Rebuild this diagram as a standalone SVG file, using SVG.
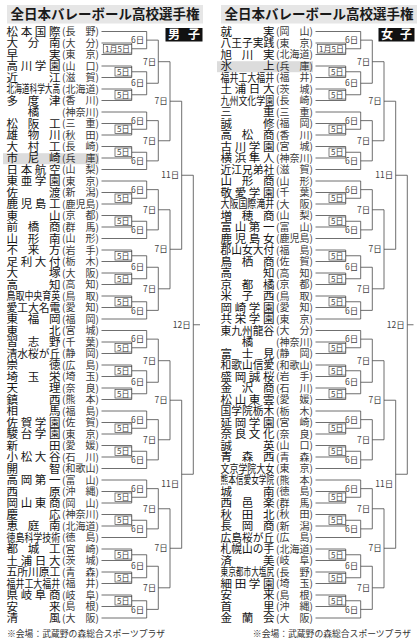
<svg xmlns="http://www.w3.org/2000/svg" width="419" height="640" viewBox="0 0 419 640">
<style>
text{font-family:"Noto Sans CJK JP","Noto Sans CJK SC",sans-serif}
.n{font-size:11.5px;fill:#151515}
.p{font-size:10px;fill:#3a3a3a}
.d{font-size:8.5px;fill:#444;text-anchor:end}
.b{font-size:8px;fill:#444;text-anchor:middle}
.ln{fill:none;stroke:#4a4a4a;stroke-width:0.8}
.bx{fill:#fff;stroke:#4a4a4a;stroke-width:0.7}
.ttl{font-size:13.5px;font-weight:bold;fill:#1a1a1a}
.hl{fill:#dcdcdc}
.ft{font-size:8.8px;fill:#333}
</style>
<rect width="419" height="640" fill="#fff"/>
<g id="header-boys">
<rect x="7" y="5" width="196" height="18.5" fill="#e6e6e6"/>
<text class="ttl" x="10.5" y="19.3">全日本バレーボール高校選手権</text>
<rect x="165.5" y="28" width="37" height="13.5" fill="#111"/>
<text x="168" y="39" font-size="12" font-weight="bold" fill="#fff" textLength="32">男子</text>
</g>
<g id="header-girls">
<rect x="221" y="5" width="196" height="18.5" fill="#e6e6e6"/>
<text class="ttl" x="224.5" y="19.3">全日本バレーボール高校選手権</text>
<rect x="378.5" y="28" width="36" height="13.5" fill="#111"/>
<text x="381" y="39" font-size="12" font-weight="bold" fill="#fff" textLength="31">女子</text>
</g>

<g id="boys" transform="translate(0,0.5)">
<g id="connectors-boys">
<path class="ln" d="M101.5 42.5H131.7V54H101.5M131.7 48.25H146.7M101.5 31H146.7V48.25M146.7 39.63H158.3M101.5 65.5H131.7V77H101.5M131.7 71.25H146.7M101.5 88.5H131.7V100H101.5M131.7 94.25H146.7M146.7 71.25V94.25M146.7 82.75H158.3M158.3 39.63V82.75M158.3 61.19H170M101.5 123H131.7V134.5H101.5M131.7 128.75H146.7M101.5 111.5H146.7V128.75M146.7 120.13H158.3M101.5 146H131.7V157.5H101.5M131.7 151.75H146.7M146.7 151.75V169H101.5M146.7 160.38H158.3M158.3 120.13V160.38M158.3 140.25H170M170 61.19V140.25M170 100.72H181.7
M101.5 192H131.7V203.5H101.5M131.7 197.75H146.7M101.5 180.5H146.7V197.75M146.7 189.13H158.3M101.5 215H131.7V226.5H101.5M131.7 220.75H146.7M146.7 220.75V238H101.5M146.7 229.38H158.3M158.3 189.13V229.38M158.3 209.25H170M101.5 249.5H131.7V261H101.5M131.7 255.25H146.7M101.5 272.5H131.7V284H101.5M131.7 278.25H146.7M146.7 255.25V278.25M146.7 266.75H158.3M101.5 295.5H131.7V307H101.5M131.7 301.25H146.7M146.7 301.25V318.5H101.5M146.7 309.88H158.3M158.3 266.75V309.88M158.3 288.31H170M170 209.25V288.31M170 248.78H181.7M181.7 100.72V248.78M181.7 174.75H193.3
M101.5 341.5H131.7V353H101.5M131.7 347.25H146.7M101.5 330H146.7V347.25M146.7 338.63H158.3M101.5 364.5H131.7V376H101.5M131.7 370.25H146.7M101.5 387.5H131.7V399H101.5M131.7 393.25H146.7M146.7 370.25V393.25M146.7 381.75H158.3M158.3 338.63V381.75M158.3 360.19H170M101.5 422H131.7V433.5H101.5M131.7 427.75H146.7M101.5 410.5H146.7V427.75M146.7 419.13H158.3M101.5 445H131.7V456.5H101.5M131.7 450.75H146.7M146.7 450.75V468H101.5M146.7 459.38H158.3M158.3 419.13V459.38M158.3 439.25H170M170 360.19V439.25M170 399.72H181.7
M101.5 491H131.7V502.5H101.5M131.7 496.75H146.7M101.5 479.5H146.7V496.75M146.7 488.13H158.3M101.5 514H131.7V525.5H101.5M131.7 519.75H146.7M146.7 519.75V537H101.5M146.7 528.38H158.3M158.3 488.13V528.38M158.3 508.25H170M101.5 548.5H131.7V560H101.5M131.7 554.25H146.7M101.5 571.5H131.7V583H101.5M131.7 577.25H146.7M146.7 554.25V577.25M146.7 565.75H158.3M101.5 594.5H131.7V606H101.5M131.7 600.25H146.7M146.7 600.25V617.5H101.5M146.7 608.88H158.3M158.3 565.75V608.88M158.3 587.31H170M170 508.25V587.31M170 547.78H181.7M181.7 399.72V547.78M181.7 473.75H193.3M193.3 174.75V473.75M193.3 324.25H200"/>
</g>
<g id="labels-boys">
<rect class="bx" x="103.3" y="43.95" width="28.4" height="8.6"/><text class="b" x="117.5" y="51.15">1月5日</text>
<rect class="bx" x="115" y="66.95" width="16.7" height="8.6"/><text class="b" x="123.35" y="74.15">5日</text>
<rect class="bx" x="115" y="89.95" width="16.7" height="8.6"/><text class="b" x="123.35" y="97.15">5日</text>
<rect class="bx" x="115" y="124.45" width="16.7" height="8.6"/><text class="b" x="123.35" y="131.65">5日</text>
<rect class="bx" x="115" y="147.45" width="16.7" height="8.6"/><text class="b" x="123.35" y="154.65">5日</text>
<rect class="bx" x="115" y="193.45" width="16.7" height="8.6"/><text class="b" x="123.35" y="200.65">5日</text>
<rect class="bx" x="115" y="216.45" width="16.7" height="8.6"/><text class="b" x="123.35" y="223.65">5日</text>
<rect class="bx" x="115" y="250.95" width="16.7" height="8.6"/><text class="b" x="123.35" y="258.15">5日</text>
<rect class="bx" x="115" y="273.95" width="16.7" height="8.6"/><text class="b" x="123.35" y="281.15">5日</text>
<rect class="bx" x="115" y="296.95" width="16.7" height="8.6"/><text class="b" x="123.35" y="304.15">5日</text>
<rect class="bx" x="115" y="342.95" width="16.7" height="8.6"/><text class="b" x="123.35" y="350.15">5日</text>
<rect class="bx" x="115" y="365.95" width="16.7" height="8.6"/><text class="b" x="123.35" y="373.15">5日</text>
<rect class="bx" x="115" y="388.95" width="16.7" height="8.6"/><text class="b" x="123.35" y="396.15">5日</text>
<rect class="bx" x="115" y="423.45" width="16.7" height="8.6"/><text class="b" x="123.35" y="430.65">5日</text>
<rect class="bx" x="115" y="446.45" width="16.7" height="8.6"/><text class="b" x="123.35" y="453.65">5日</text>
<rect class="bx" x="115" y="492.45" width="16.7" height="8.6"/><text class="b" x="123.35" y="499.65">5日</text>
<rect class="bx" x="115" y="515.45" width="16.7" height="8.6"/><text class="b" x="123.35" y="522.65">5日</text>
<rect class="bx" x="115" y="549.95" width="16.7" height="8.6"/><text class="b" x="123.35" y="557.15">5日</text>
<rect class="bx" x="115" y="572.95" width="16.7" height="8.6"/><text class="b" x="123.35" y="580.15">5日</text>
<rect class="bx" x="115" y="595.95" width="16.7" height="8.6"/><text class="b" x="123.35" y="603.15">5日</text>
<text class="d" x="144.2" y="42.7">6日</text><text class="d" x="144.2" y="85.85">6日</text><text class="d" x="144.2" y="123.2">6日</text><text class="d" x="144.2" y="163.5">6日</text>
<text class="d" x="144.2" y="192.2">6日</text><text class="d" x="144.2" y="232.5">6日</text><text class="d" x="144.2" y="269.85">6日</text><text class="d" x="144.2" y="313">6日</text>
<text class="d" x="144.2" y="341.7">6日</text><text class="d" x="144.2" y="384.85">6日</text><text class="d" x="144.2" y="422.2">6日</text><text class="d" x="144.2" y="462.5">6日</text>
<text class="d" x="144.2" y="491.2">6日</text><text class="d" x="144.2" y="531.5">6日</text><text class="d" x="144.2" y="568.85">6日</text><text class="d" x="144.2" y="612">6日</text>
<text class="d" x="156.3" y="64.3">7日</text><text class="d" x="156.3" y="143.35">7日</text><text class="d" x="156.3" y="212.35">7日</text><text class="d" x="156.3" y="291.4">7日</text>
<text class="d" x="156.3" y="363.3">7日</text><text class="d" x="156.3" y="442.35">7日</text><text class="d" x="156.3" y="511.35">7日</text><text class="d" x="156.3" y="590.4">7日</text>
<text class="d" x="167.8" y="103.8">7日</text><text class="d" x="167.8" y="251.9">7日</text><text class="d" x="167.8" y="402.8">7日</text><text class="d" x="167.8" y="550.9">7日</text>
<text class="d" x="179.2" y="177.85">11日</text><text class="d" x="179.2" y="486.1">11日</text>
<text class="d" x="190.8" y="327.35">12日</text>
</g>
<g id="b01" transform="translate(0,31)"><text class="n" x="6.5" y="4.4" textLength="54">松本国際</text><text class="p" x="62" y="3.8">(長<tspan dx="10">野</tspan>)</text></g>
<g id="b02" transform="translate(0,42.5)"><text class="n" x="6.5" y="4.4" textLength="54">大分南</text><text class="p" x="62" y="3.8">(大<tspan dx="10">分</tspan>)</text></g>
<g id="b03" transform="translate(0,54)"><text class="n" x="6.5" y="4.4" textLength="54">早実</text><text class="p" x="62" y="3.8">(東<tspan dx="10">京</tspan>)</text></g>
<g id="b04" transform="translate(0,65.5)"><text class="n" x="6.5" y="4.4" textLength="54">高川学園</text><text class="p" x="62" y="3.8">(山<tspan dx="10">口</tspan>)</text></g>
<g id="b05" transform="translate(0,77)"><text class="n" x="6.5" y="4.4" textLength="54">近江</text><text class="p" x="62" y="3.8">(滋<tspan dx="10">賀</tspan>)</text></g>
<g id="b06" transform="translate(0,88.5)"><text class="n" transform="translate(6.5,4.4) scale(0.668,1)">北海道科学大高</text><text class="p" x="62" y="3.8">(北海道)</text></g>
<g id="b07" transform="translate(0,100)"><text class="n" x="6.5" y="4.4" textLength="54">多度津</text><text class="p" x="62" y="3.8">(香<tspan dx="10">川</tspan>)</text></g>
<g id="b08" transform="translate(0,111.5)"><text class="n" x="33.5" y="4.4" text-anchor="middle">橘</text><text class="p" x="62" y="3.8">(神奈川)</text></g>
<g id="b09" transform="translate(0,123)"><text class="n" x="6.5" y="4.4" textLength="54">松阪工</text><text class="p" x="62" y="3.8">(三<tspan dx="10">重</tspan>)</text></g>
<g id="b10" transform="translate(0,134.5)"><text class="n" x="6.5" y="4.4" textLength="54">雄物川</text><text class="p" x="62" y="3.8">(秋<tspan dx="10">田</tspan>)</text></g>
<g id="b11" transform="translate(0,146)"><text class="n" x="6.5" y="4.4" textLength="54">大村工</text><text class="p" x="62" y="3.8">(長<tspan dx="10">崎</tspan>)</text></g>
<g id="b12" transform="translate(0,157.5)"><rect class="hl" x="3" y="-4.8" width="96" height="11"/><text class="n" x="6.5" y="4.4" textLength="54">市尼崎</text><text class="p" x="62" y="3.8">(兵<tspan dx="10">庫</tspan>)</text></g>
<g id="b13" transform="translate(0,169)"><text class="n" x="6.5" y="4.4" textLength="54">日本航空</text><text class="p" x="62" y="3.8">(山<tspan dx="10">梨</tspan>)</text></g>
<g id="b14" transform="translate(0,180.5)"><text class="n" x="6.5" y="4.4" textLength="54">東亜学園</text><text class="p" x="62" y="3.8">(東<tspan dx="10">京</tspan>)</text></g>
<g id="b15" transform="translate(0,192)"><text class="n" x="6.5" y="4.4" textLength="54">佐渡</text><text class="p" x="62" y="3.8">(新<tspan dx="10">潟</tspan>)</text></g>
<g id="b16" transform="translate(0,203.5)"><text class="n" x="6.5" y="4.4" textLength="54">鹿児島工</text><text class="p" x="62" y="3.8">(鹿児島)</text></g>
<g id="b17" transform="translate(0,215)"><text class="n" x="6.5" y="4.4" textLength="54">東山</text><text class="p" x="62" y="3.8">(京<tspan dx="10">都</tspan>)</text></g>
<g id="b18" transform="translate(0,226.5)"><text class="n" x="6.5" y="4.4" textLength="54">前橋商</text><text class="p" x="62" y="3.8">(群<tspan dx="10">馬</tspan>)</text></g>
<g id="b19" transform="translate(0,238)"><text class="n" x="6.5" y="4.4" textLength="54">山形南</text><text class="p" x="62" y="3.8">(山<tspan dx="10">形</tspan>)</text></g>
<g id="b20" transform="translate(0,249.5)"><text class="n" x="6.5" y="4.4" textLength="54">不来方</text><text class="p" x="62" y="3.8">(岩<tspan dx="10">手</tspan>)</text></g>
<g id="b21" transform="translate(0,261)"><text class="n" x="6.5" y="4.4" textLength="54">足利大付</text><text class="p" x="62" y="3.8">(栃<tspan dx="10">木</tspan>)</text></g>
<g id="b22" transform="translate(0,272.5)"><text class="n" x="6.5" y="4.4" textLength="54">大塚</text><text class="p" x="62" y="3.8">(大<tspan dx="10">阪</tspan>)</text></g>
<g id="b23" transform="translate(0,284)"><text class="n" x="6.5" y="4.4" textLength="54">高知</text><text class="p" x="62" y="3.8">(高<tspan dx="10">知</tspan>)</text></g>
<g id="b24" transform="translate(0,295.5)"><text class="n" transform="translate(6.5,4.4) scale(0.78,1)">鳥取中央育英</text><text class="p" x="62" y="3.8">(鳥<tspan dx="10">取</tspan>)</text></g>
<g id="b25" transform="translate(0,307)"><text class="n" transform="translate(6.5,4.4) scale(0.935,1)">愛工大名電</text><text class="p" x="62" y="3.8">(愛<tspan dx="10">知</tspan>)</text></g>
<g id="b26" transform="translate(0,318.5)"><text class="n" x="6.5" y="4.4" textLength="54">東福岡</text><text class="p" x="62" y="3.8">(福<tspan dx="10">岡</tspan>)</text></g>
<g id="b27" transform="translate(0,330)"><text class="n" x="6.5" y="4.4" textLength="54">東北</text><text class="p" x="62" y="3.8">(宮<tspan dx="10">城</tspan>)</text></g>
<g id="b28" transform="translate(0,341.5)"><text class="n" x="6.5" y="4.4" textLength="54">習志野</text><text class="p" x="62" y="3.8">(千<tspan dx="10">葉</tspan>)</text></g>
<g id="b29" transform="translate(0,353)"><text class="n" transform="translate(6.5,4.4) scale(0.935,1)">清水桜が丘</text><text class="p" x="62" y="3.8">(静<tspan dx="10">岡</tspan>)</text></g>
<g id="b30" transform="translate(0,364.5)"><text class="n" x="6.5" y="4.4" textLength="54">崇徳</text><text class="p" x="62" y="3.8">(広<tspan dx="10">島</tspan>)</text></g>
<g id="b31" transform="translate(0,376)"><text class="n" x="6.5" y="4.4" textLength="54">埼玉栄</text><text class="p" x="62" y="3.8">(埼<tspan dx="10">玉</tspan>)</text></g>
<g id="b32" transform="translate(0,387.5)"><text class="n" x="6.5" y="4.4" textLength="54">天理</text><text class="p" x="62" y="3.8">(奈<tspan dx="10">良</tspan>)</text></g>
<g id="b33" transform="translate(0,399)"><text class="n" x="6.5" y="4.4" textLength="54">鎮西</text><text class="p" x="62" y="3.8">(熊<tspan dx="10">本</tspan>)</text></g>
<g id="b34" transform="translate(0,410.5)"><text class="n" x="6.5" y="4.4" textLength="54">相馬</text><text class="p" x="62" y="3.8">(福<tspan dx="10">島</tspan>)</text></g>
<g id="b35" transform="translate(0,422)"><text class="n" x="6.5" y="4.4" textLength="54">佐賀学園</text><text class="p" x="62" y="3.8">(佐<tspan dx="10">賀</tspan>)</text></g>
<g id="b36" transform="translate(0,433.5)"><text class="n" x="6.5" y="4.4" textLength="54">駿台学園</text><text class="p" x="62" y="3.8">(東<tspan dx="10">京</tspan>)</text></g>
<g id="b37" transform="translate(0,445)"><text class="n" x="6.5" y="4.4" textLength="54">新田</text><text class="p" x="62" y="3.8">(愛<tspan dx="10">媛</tspan>)</text></g>
<g id="b38" transform="translate(0,456.5)"><text class="n" x="6.5" y="4.4" textLength="54">小松大谷</text><text class="p" x="62" y="3.8">(石<tspan dx="10">川</tspan>)</text></g>
<g id="b39" transform="translate(0,468)"><text class="n" x="6.5" y="4.4" textLength="54">開智</text><text class="p" x="62" y="3.8">(和歌山)</text></g>
<g id="b40" transform="translate(0,479.5)"><text class="n" x="6.5" y="4.4" textLength="54">高岡第一</text><text class="p" x="62" y="3.8">(富<tspan dx="10">山</tspan>)</text></g>
<g id="b41" transform="translate(0,491)"><text class="n" x="6.5" y="4.4" textLength="54">西原</text><text class="p" x="62" y="3.8">(沖<tspan dx="10">縄</tspan>)</text></g>
<g id="b42" transform="translate(0,502.5)"><text class="n" x="6.5" y="4.4" textLength="54">岡山東商</text><text class="p" x="62" y="3.8">(岡<tspan dx="10">山</tspan>)</text></g>
<g id="b43" transform="translate(0,514)"><text class="n" x="6.5" y="4.4" textLength="54">慶応</text><text class="p" x="62" y="3.8">(神奈川)</text></g>
<g id="b44" transform="translate(0,525.5)"><text class="n" x="6.5" y="4.4" textLength="54">恵庭南</text><text class="p" x="62" y="3.8">(北海道)</text></g>
<g id="b45" transform="translate(0,537)"><text class="n" transform="translate(6.5,4.4) scale(0.78,1)">徳島科学技術</text><text class="p" x="62" y="3.8">(徳<tspan dx="10">島</tspan>)</text></g>
<g id="b46" transform="translate(0,548.5)"><text class="n" x="6.5" y="4.4" textLength="54">都城工</text><text class="p" x="62" y="3.8">(宮<tspan dx="10">崎</tspan>)</text></g>
<g id="b47" transform="translate(0,560)"><text class="n" x="6.5" y="4.4" textLength="54">土浦日大</text><text class="p" x="62" y="3.8">(茨<tspan dx="10">城</tspan>)</text></g>
<g id="b48" transform="translate(0,571.5)"><text class="n" transform="translate(6.5,4.4) scale(0.935,1)">五所川原工</text><text class="p" x="62" y="3.8">(青<tspan dx="10">森</tspan>)</text></g>
<g id="b49" transform="translate(0,583)"><text class="n" transform="translate(6.5,4.4) scale(0.78,1)">福井工大福井</text><text class="p" x="62" y="3.8">(福<tspan dx="10">井</tspan>)</text></g>
<g id="b50" transform="translate(0,594.5)"><text class="n" x="6.5" y="4.4" textLength="54">県岐阜商</text><text class="p" x="62" y="3.8">(岐<tspan dx="10">阜</tspan>)</text></g>
<g id="b51" transform="translate(0,606)"><text class="n" x="6.5" y="4.4" textLength="54">安来</text><text class="p" x="62" y="3.8">(島<tspan dx="10">根</tspan>)</text></g>
<g id="b52" transform="translate(0,617.5)"><text class="n" x="6.5" y="4.4" textLength="54">清風</text><text class="p" x="62" y="3.8">(大<tspan dx="10">阪</tspan>)</text></g>
</g>

<g id="girls" transform="translate(214,0.5)">
<g id="connectors-girls">
<path class="ln" d="M101.5 42.5H131.7V54H101.5M131.7 48.25H146.7M101.5 31H146.7V48.25M146.7 39.63H158.3M101.5 65.5H131.7V77H101.5M131.7 71.25H146.7M101.5 88.5H131.7V100H101.5M131.7 94.25H146.7M146.7 71.25V94.25M146.7 82.75H158.3M158.3 39.63V82.75M158.3 61.19H170M101.5 123H131.7V134.5H101.5M131.7 128.75H146.7M101.5 111.5H146.7V128.75M146.7 120.13H158.3M101.5 146H131.7V157.5H101.5M131.7 151.75H146.7M146.7 151.75V169H101.5M146.7 160.38H158.3M158.3 120.13V160.38M158.3 140.25H170M170 61.19V140.25M170 100.72H181.7
M101.5 192H131.7V203.5H101.5M131.7 197.75H146.7M101.5 180.5H146.7V197.75M146.7 189.13H158.3M101.5 215H131.7V226.5H101.5M131.7 220.75H146.7M146.7 220.75V238H101.5M146.7 229.38H158.3M158.3 189.13V229.38M158.3 209.25H170M101.5 249.5H131.7V261H101.5M131.7 255.25H146.7M101.5 272.5H131.7V284H101.5M131.7 278.25H146.7M146.7 255.25V278.25M146.7 266.75H158.3M101.5 295.5H131.7V307H101.5M131.7 301.25H146.7M146.7 301.25V318.5H101.5M146.7 309.88H158.3M158.3 266.75V309.88M158.3 288.31H170M170 209.25V288.31M170 248.78H181.7M181.7 100.72V248.78M181.7 174.75H193.3
M101.5 341.5H131.7V353H101.5M131.7 347.25H146.7M101.5 330H146.7V347.25M146.7 338.63H158.3M101.5 364.5H131.7V376H101.5M131.7 370.25H146.7M101.5 387.5H131.7V399H101.5M131.7 393.25H146.7M146.7 370.25V393.25M146.7 381.75H158.3M158.3 338.63V381.75M158.3 360.19H170M101.5 422H131.7V433.5H101.5M131.7 427.75H146.7M101.5 410.5H146.7V427.75M146.7 419.13H158.3M101.5 445H131.7V456.5H101.5M131.7 450.75H146.7M146.7 450.75V468H101.5M146.7 459.38H158.3M158.3 419.13V459.38M158.3 439.25H170M170 360.19V439.25M170 399.72H181.7
M101.5 491H131.7V502.5H101.5M131.7 496.75H146.7M101.5 479.5H146.7V496.75M146.7 488.13H158.3M101.5 514H131.7V525.5H101.5M131.7 519.75H146.7M146.7 519.75V537H101.5M146.7 528.38H158.3M158.3 488.13V528.38M158.3 508.25H170M101.5 548.5H131.7V560H101.5M131.7 554.25H146.7M101.5 571.5H131.7V583H101.5M131.7 577.25H146.7M146.7 554.25V577.25M146.7 565.75H158.3M101.5 594.5H131.7V606H101.5M131.7 600.25H146.7M146.7 600.25V617.5H101.5M146.7 608.88H158.3M158.3 565.75V608.88M158.3 587.31H170M170 508.25V587.31M170 547.78H181.7M181.7 399.72V547.78M181.7 473.75H193.3M193.3 174.75V473.75M193.3 324.25H199.5"/>
</g>
<g id="labels-girls">
<rect class="bx" x="103.3" y="43.95" width="28.4" height="8.6"/><text class="b" x="117.5" y="51.15">1月5日</text>
<rect class="bx" x="115" y="66.95" width="16.7" height="8.6"/><text class="b" x="123.35" y="74.15">5日</text>
<rect class="bx" x="115" y="89.95" width="16.7" height="8.6"/><text class="b" x="123.35" y="97.15">5日</text>
<rect class="bx" x="115" y="124.45" width="16.7" height="8.6"/><text class="b" x="123.35" y="131.65">5日</text>
<rect class="bx" x="115" y="147.45" width="16.7" height="8.6"/><text class="b" x="123.35" y="154.65">5日</text>
<rect class="bx" x="115" y="193.45" width="16.7" height="8.6"/><text class="b" x="123.35" y="200.65">5日</text>
<rect class="bx" x="115" y="216.45" width="16.7" height="8.6"/><text class="b" x="123.35" y="223.65">5日</text>
<rect class="bx" x="115" y="250.95" width="16.7" height="8.6"/><text class="b" x="123.35" y="258.15">5日</text>
<rect class="bx" x="115" y="273.95" width="16.7" height="8.6"/><text class="b" x="123.35" y="281.15">5日</text>
<rect class="bx" x="115" y="296.95" width="16.7" height="8.6"/><text class="b" x="123.35" y="304.15">5日</text>
<rect class="bx" x="115" y="342.95" width="16.7" height="8.6"/><text class="b" x="123.35" y="350.15">5日</text>
<rect class="bx" x="115" y="365.95" width="16.7" height="8.6"/><text class="b" x="123.35" y="373.15">5日</text>
<rect class="bx" x="115" y="388.95" width="16.7" height="8.6"/><text class="b" x="123.35" y="396.15">5日</text>
<rect class="bx" x="115" y="423.45" width="16.7" height="8.6"/><text class="b" x="123.35" y="430.65">5日</text>
<rect class="bx" x="115" y="446.45" width="16.7" height="8.6"/><text class="b" x="123.35" y="453.65">5日</text>
<rect class="bx" x="115" y="492.45" width="16.7" height="8.6"/><text class="b" x="123.35" y="499.65">5日</text>
<rect class="bx" x="115" y="515.45" width="16.7" height="8.6"/><text class="b" x="123.35" y="522.65">5日</text>
<rect class="bx" x="115" y="549.95" width="16.7" height="8.6"/><text class="b" x="123.35" y="557.15">5日</text>
<rect class="bx" x="115" y="572.95" width="16.7" height="8.6"/><text class="b" x="123.35" y="580.15">5日</text>
<rect class="bx" x="115" y="595.95" width="16.7" height="8.6"/><text class="b" x="123.35" y="603.15">5日</text>
<text class="d" x="144.2" y="42.7">6日</text><text class="d" x="144.2" y="85.85">6日</text><text class="d" x="144.2" y="123.2">6日</text><text class="d" x="144.2" y="163.5">6日</text>
<text class="d" x="144.2" y="192.2">6日</text><text class="d" x="144.2" y="232.5">6日</text><text class="d" x="144.2" y="269.85">6日</text><text class="d" x="144.2" y="313">6日</text>
<text class="d" x="144.2" y="341.7">6日</text><text class="d" x="144.2" y="384.85">6日</text><text class="d" x="144.2" y="422.2">6日</text><text class="d" x="144.2" y="462.5">6日</text>
<text class="d" x="144.2" y="491.2">6日</text><text class="d" x="144.2" y="531.5">6日</text><text class="d" x="144.2" y="568.85">6日</text><text class="d" x="144.2" y="612">6日</text>
<text class="d" x="156.3" y="64.3">7日</text><text class="d" x="156.3" y="143.35">7日</text><text class="d" x="156.3" y="212.35">7日</text><text class="d" x="156.3" y="291.4">7日</text>
<text class="d" x="156.3" y="363.3">7日</text><text class="d" x="156.3" y="442.35">7日</text><text class="d" x="156.3" y="511.35">7日</text><text class="d" x="156.3" y="590.4">7日</text>
<text class="d" x="167.8" y="103.8">7日</text><text class="d" x="167.8" y="251.9">7日</text><text class="d" x="167.8" y="402.8">7日</text><text class="d" x="167.8" y="550.9">7日</text>
<text class="d" x="179.2" y="177.85">11日</text><text class="d" x="179.2" y="486.1">11日</text>
<text class="d" x="190.8" y="327.35">12日</text>
</g>
<g id="g01" transform="translate(0,31)"><text class="n" x="6.5" y="4.4" textLength="54">就実</text><text class="p" x="62" y="3.8">(岡<tspan dx="10">山</tspan>)</text></g>
<g id="g02" transform="translate(0,42.5)"><text class="n" transform="translate(6.5,4.4) scale(0.935,1)">八王子実践</text><text class="p" x="62" y="3.8">(東<tspan dx="10">京</tspan>)</text></g>
<g id="g03" transform="translate(0,54)"><text class="n" x="6.5" y="4.4" textLength="54">旭川実</text><text class="p" x="62" y="3.8">(北海道)</text></g>
<g id="g04" transform="translate(0,65.5)"><rect class="hl" x="3" y="-4.8" width="96" height="11"/><text class="n" x="6.5" y="4.4" textLength="54">氷上</text><text class="p" x="62" y="3.8">(兵<tspan dx="10">庫</tspan>)</text></g>
<g id="g05" transform="translate(0,77)"><text class="n" transform="translate(6.5,4.4) scale(0.78,1)">福井工大福井</text><text class="p" x="62" y="3.8">(福<tspan dx="10">井</tspan>)</text></g>
<g id="g06" transform="translate(0,88.5)"><text class="n" x="6.5" y="4.4" textLength="54">土浦日大</text><text class="p" x="62" y="3.8">(茨<tspan dx="10">城</tspan>)</text></g>
<g id="g07" transform="translate(0,100)"><text class="n" transform="translate(6.5,4.4) scale(0.78,1)">九州文化学園</text><text class="p" x="62" y="3.8">(長<tspan dx="10">崎</tspan>)</text></g>
<g id="g08" transform="translate(0,111.5)"><text class="n" x="6.5" y="4.4" textLength="54">三重</text><text class="p" x="62" y="3.8">(三<tspan dx="10">重</tspan>)</text></g>
<g id="g09" transform="translate(0,123)"><text class="n" x="6.5" y="4.4" textLength="54">誠修</text><text class="p" x="62" y="3.8">(福<tspan dx="10">岡</tspan>)</text></g>
<g id="g10" transform="translate(0,134.5)"><text class="n" x="6.5" y="4.4" textLength="54">高松商</text><text class="p" x="62" y="3.8">(香<tspan dx="10">川</tspan>)</text></g>
<g id="g11" transform="translate(0,146)"><text class="n" x="6.5" y="4.4" textLength="54">古川学園</text><text class="p" x="62" y="3.8">(宮<tspan dx="10">城</tspan>)</text></g>
<g id="g12" transform="translate(0,157.5)"><text class="n" x="6.5" y="4.4" textLength="54">横浜隼人</text><text class="p" x="62" y="3.8">(神奈川)</text></g>
<g id="g13" transform="translate(0,169)"><text class="n" transform="translate(6.5,4.4) scale(0.935,1)">近江兄弟社</text><text class="p" x="62" y="3.8">(滋<tspan dx="10">賀</tspan>)</text></g>
<g id="g14" transform="translate(0,180.5)"><text class="n" x="6.5" y="4.4" textLength="54">山形商</text><text class="p" x="62" y="3.8">(山<tspan dx="10">形</tspan>)</text></g>
<g id="g15" transform="translate(0,192)"><text class="n" x="6.5" y="4.4" textLength="54">敬愛学園</text><text class="p" x="62" y="3.8">(千<tspan dx="10">葉</tspan>)</text></g>
<g id="g16" transform="translate(0,203.5)"><text class="n" transform="translate(6.5,4.4) scale(0.78,1)">大阪国際滝井</text><text class="p" x="62" y="3.8">(大<tspan dx="10">阪</tspan>)</text></g>
<g id="g17" transform="translate(0,215)"><text class="n" x="6.5" y="4.4" textLength="54">増穂商</text><text class="p" x="62" y="3.8">(山<tspan dx="10">梨</tspan>)</text></g>
<g id="g18" transform="translate(0,226.5)"><text class="n" x="6.5" y="4.4" textLength="54">富山第一</text><text class="p" x="62" y="3.8">(富<tspan dx="10">山</tspan>)</text></g>
<g id="g19" transform="translate(0,238)"><text class="n" x="6.5" y="4.4" textLength="54">鹿児島女</text><text class="p" x="62" y="3.8">(鹿児島)</text></g>
<g id="g20" transform="translate(0,249.5)"><text class="n" transform="translate(6.5,4.4) scale(0.935,1)">郡山女大付</text><text class="p" x="62" y="3.8">(福<tspan dx="10">島</tspan>)</text></g>
<g id="g21" transform="translate(0,261)"><text class="n" x="6.5" y="4.4" textLength="54">鳥栖商</text><text class="p" x="62" y="3.8">(佐<tspan dx="10">賀</tspan>)</text></g>
<g id="g22" transform="translate(0,272.5)"><text class="n" x="6.5" y="4.4" textLength="54">高知</text><text class="p" x="62" y="3.8">(高<tspan dx="10">知</tspan>)</text></g>
<g id="g23" transform="translate(0,284)"><text class="n" x="6.5" y="4.4" textLength="54">京都橘</text><text class="p" x="62" y="3.8">(京<tspan dx="10">都</tspan>)</text></g>
<g id="g24" transform="translate(0,295.5)"><text class="n" x="6.5" y="4.4" textLength="54">米子西</text><text class="p" x="62" y="3.8">(鳥<tspan dx="10">取</tspan>)</text></g>
<g id="g25" transform="translate(0,307)"><text class="n" x="6.5" y="4.4" textLength="54">岡崎学園</text><text class="p" x="62" y="3.8">(愛<tspan dx="10">知</tspan>)</text></g>
<g id="g26" transform="translate(0,318.5)"><text class="n" x="6.5" y="4.4" textLength="54">共栄学園</text><text class="p" x="62" y="3.8">(東<tspan dx="10">京</tspan>)</text></g>
<g id="g27" transform="translate(0,330)"><text class="n" transform="translate(6.5,4.4) scale(0.935,1)">東九州龍谷</text><text class="p" x="62" y="3.8">(大<tspan dx="10">分</tspan>)</text></g>
<g id="g28" transform="translate(0,341.5)"><text class="n" x="33.5" y="4.4" text-anchor="middle">橘</text><text class="p" x="62" y="3.8">(神奈川)</text></g>
<g id="g29" transform="translate(0,353)"><text class="n" x="6.5" y="4.4" textLength="54">富士見</text><text class="p" x="62" y="3.8">(静<tspan dx="10">岡</tspan>)</text></g>
<g id="g30" transform="translate(0,364.5)"><text class="n" transform="translate(6.5,4.4) scale(0.935,1)">和歌山信愛</text><text class="p" x="62" y="3.8">(和歌山)</text></g>
<g id="g31" transform="translate(0,376)"><text class="n" x="6.5" y="4.4" textLength="54">盛岡誠桜</text><text class="p" x="62" y="3.8">(岩<tspan dx="10">手</tspan>)</text></g>
<g id="g32" transform="translate(0,387.5)"><text class="n" x="6.5" y="4.4" textLength="54">金沢商</text><text class="p" x="62" y="3.8">(石<tspan dx="10">川</tspan>)</text></g>
<g id="g33" transform="translate(0,399)"><text class="n" x="6.5" y="4.4" textLength="54">松山東雲</text><text class="p" x="62" y="3.8">(愛<tspan dx="10">媛</tspan>)</text></g>
<g id="g34" transform="translate(0,410.5)"><text class="n" transform="translate(6.5,4.4) scale(0.935,1)">国学院栃木</text><text class="p" x="62" y="3.8">(栃<tspan dx="10">木</tspan>)</text></g>
<g id="g35" transform="translate(0,422)"><text class="n" x="6.5" y="4.4" textLength="54">延岡学園</text><text class="p" x="62" y="3.8">(宮<tspan dx="10">崎</tspan>)</text></g>
<g id="g36" transform="translate(0,433.5)"><text class="n" x="6.5" y="4.4" textLength="54">奈良文化</text><text class="p" x="62" y="3.8">(奈<tspan dx="10">良</tspan>)</text></g>
<g id="g37" transform="translate(0,445)"><text class="n" x="6.5" y="4.4" textLength="54">誠英</text><text class="p" x="62" y="3.8">(山<tspan dx="10">口</tspan>)</text></g>
<g id="g38" transform="translate(0,456.5)"><text class="n" x="6.5" y="4.4" textLength="54">青森西</text><text class="p" x="62" y="3.8">(青<tspan dx="10">森</tspan>)</text></g>
<g id="g39" transform="translate(0,468)"><text class="n" transform="translate(6.5,4.4) scale(0.78,1)">文京学院大女</text><text class="p" x="62" y="3.8">(東<tspan dx="10">京</tspan>)</text></g>
<g id="g40" transform="translate(0,479.5)"><text class="n" transform="translate(6.5,4.4) scale(0.668,1)">熊本信愛女学院</text><text class="p" x="62" y="3.8">(熊<tspan dx="10">本</tspan>)</text></g>
<g id="g41" transform="translate(0,491)"><text class="n" x="6.5" y="4.4" textLength="54">城南</text><text class="p" x="62" y="3.8">(徳<tspan dx="10">島</tspan>)</text></g>
<g id="g42" transform="translate(0,502.5)"><text class="n" x="6.5" y="4.4" textLength="54">西邑楽</text><text class="p" x="62" y="3.8">(群<tspan dx="10">馬</tspan>)</text></g>
<g id="g43" transform="translate(0,514)"><text class="n" x="6.5" y="4.4" textLength="54">秋田北</text><text class="p" x="62" y="3.8">(秋<tspan dx="10">田</tspan>)</text></g>
<g id="g44" transform="translate(0,525.5)"><text class="n" x="6.5" y="4.4" textLength="54">長岡商</text><text class="p" x="62" y="3.8">(新<tspan dx="10">潟</tspan>)</text></g>
<g id="g45" transform="translate(0,537)"><text class="n" transform="translate(6.5,4.4) scale(0.935,1)">広島桜が丘</text><text class="p" x="62" y="3.8">(広<tspan dx="10">島</tspan>)</text></g>
<g id="g46" transform="translate(0,548.5)"><text class="n" transform="translate(6.5,4.4) scale(0.935,1)">札幌山の手</text><text class="p" x="62" y="3.8">(北海道)</text></g>
<g id="g47" transform="translate(0,560)"><text class="n" x="6.5" y="4.4" textLength="54">済美</text><text class="p" x="62" y="3.8">(岐<tspan dx="10">阜</tspan>)</text></g>
<g id="g48" transform="translate(0,571.5)"><text class="n" transform="translate(6.5,4.4) scale(0.668,1)">東京都市大塩尻</text><text class="p" x="62" y="3.8">(長<tspan dx="10">野</tspan>)</text></g>
<g id="g49" transform="translate(0,583)"><text class="n" x="6.5" y="4.4" textLength="54">細田学園</text><text class="p" x="62" y="3.8">(埼<tspan dx="10">玉</tspan>)</text></g>
<g id="g50" transform="translate(0,594.5)"><text class="n" x="6.5" y="4.4" textLength="54">安来</text><text class="p" x="62" y="3.8">(島<tspan dx="10">根</tspan>)</text></g>
<g id="g51" transform="translate(0,606)"><text class="n" x="6.5" y="4.4" textLength="54">首里</text><text class="p" x="62" y="3.8">(沖<tspan dx="10">縄</tspan>)</text></g>
<g id="g52" transform="translate(0,617.5)"><text class="n" x="6.5" y="4.4" textLength="54">金蘭会</text><text class="p" x="62" y="3.8">(大<tspan dx="10">阪</tspan>)</text></g>
</g>

<g id="footer">
<text class="ft" x="7" y="636.5">※会場：武蔵野の森総合スポーツプラザ</text>
<text class="ft" x="411" y="636.5" text-anchor="end">※会場：武蔵野の森総合スポーツプラザ</text>
</g>
</svg>
